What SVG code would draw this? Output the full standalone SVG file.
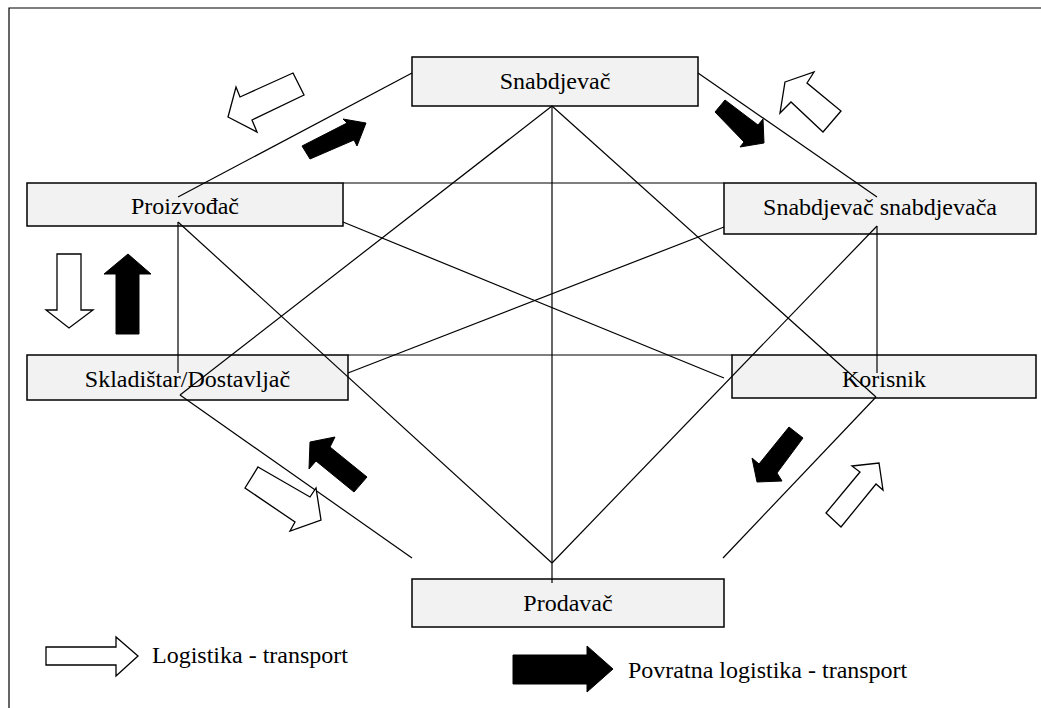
<svg xmlns="http://www.w3.org/2000/svg" width="1041" height="708" viewBox="0 0 1041 708">
<style>
.box{fill:#f2f2f2;stroke:#000;stroke-width:1.5}
.lbl{font-family:'Liberation Serif','Times New Roman',serif;font-size:24px;fill:#000}
.c{text-anchor:middle}
.ln{stroke:#000;stroke-width:1.2;fill:none}
.wa{fill:#fff;stroke:#000;stroke-width:1.3;stroke-linejoin:miter}
.ba{fill:#000;stroke:#000;stroke-width:1}
</style>
<rect x="0" y="0" width="1041" height="708" fill="#fff"/>
<g id="frame">
<path class="ln" d="M9,708 L9,8 L1041,8"/>
</g>
<g id="n-snabdjevac"><rect class="box" x="412" y="57" width="286" height="49"/><text class="lbl c" font-family="Liberation Serif, serif" x="555" y="89">Snabdjevač</text></g>
<g id="n-proizvodjac"><rect class="box" x="27" y="183" width="316" height="43"/><text class="lbl c" font-family="Liberation Serif, serif" x="185" y="214">Proizvođač</text></g>
<g id="n-snabdjevac-snabdjevaca"><rect class="box" x="724" y="183" width="312" height="51"/><text class="lbl c" font-family="Liberation Serif, serif" x="880" y="215">Snabdjevač snabdjevača</text></g>
<g id="n-skladistar"><rect class="box" x="27" y="355" width="321" height="45"/><text class="lbl c" font-family="Liberation Serif, serif" x="187.5" y="387">Skladištar/Dostavljač</text></g>
<g id="n-korisnik"><rect class="box" x="732" y="355" width="304" height="43"/><text class="lbl c" font-family="Liberation Serif, serif" x="884" y="387">Korisnik</text></g>
<g id="n-prodavac"><rect class="box" x="412" y="579" width="312" height="48"/><text class="lbl c" font-family="Liberation Serif, serif" x="568" y="611">Prodavač</text></g>
<g id="connectors">
<line class="ln" x1="412" y1="73" x2="178" y2="197"/>
<line class="ln" x1="698" y1="73" x2="877" y2="197"/>
<line class="ln" x1="343" y1="183" x2="724" y2="183"/>
<line class="ln" x1="348" y1="355" x2="732" y2="355"/>
<line class="ln" x1="552" y1="106" x2="552" y2="583"/>
<line class="ln" x1="552" y1="106" x2="180" y2="395"/>
<line class="ln" x1="552" y1="106" x2="876" y2="397"/>
<line class="ln" x1="343" y1="222" x2="724" y2="378"/>
<line class="ln" x1="178" y1="222" x2="178" y2="373"/>
<line class="ln" x1="178" y1="222" x2="552" y2="563"/>
<line class="ln" x1="877" y1="226" x2="552" y2="563"/>
<line class="ln" x1="877" y1="226" x2="877" y2="373"/>
<line class="ln" x1="724" y1="227" x2="348" y2="373"/>
<line class="ln" x1="180" y1="395" x2="412" y2="558"/>
<line class="ln" x1="876" y1="397" x2="723" y2="558"/>
</g>
<g id="flow-arrows">
<polygon class="wa" points="293,73 304,95 252,120 257,132 228,117 236,87 240,97"/>
<polygon class="wa" points="785,82 814,72 807,83 841,111 823,132 791,102 780,113"/>
<polygon class="wa" points="57,254 81,254 81,310 93,310 69,328 46,310 57,310"/>
<polygon class="wa" points="258,467 310,497 316,488 321,520 290,531 295,522 245,488"/>
<polygon class="wa" points="852,466 879,463 883,490 876,484 841,527 826,513 860,472"/>
<polygon class="ba" points="302,146 347,123 343,119 366,123 357,146 354,140 310,159"/>
<polygon class="ba" points="725,100 758,125 763,119 764,143 740,147 744,142 715,112"/>
<polygon class="ba" points="128,254 151,274 139,274 139,334 116,334 116,274 104,274"/>
<polygon class="ba" points="310,442 335,437 330,447 367,477 354,492 316,461 309,469"/>
<polygon class="ba" points="789,427 803,438 777,473 782,481 757,482 752,458 759,464"/>
</g>
<g id="legend">
<polygon class="wa" points="46,647 116,647 116,637 138,656 116,676 116,665 46,665"/>
<text class="lbl" font-family="Liberation Serif, serif" x="152" y="663">Logistika - transport</text>
<polygon class="ba" points="513,655 587,655 587,646 613,669 587,692 587,684 513,684"/>
<text class="lbl" font-family="Liberation Serif, serif" x="628" y="678">Povratna logistika - transport</text>
</g>
</svg>
